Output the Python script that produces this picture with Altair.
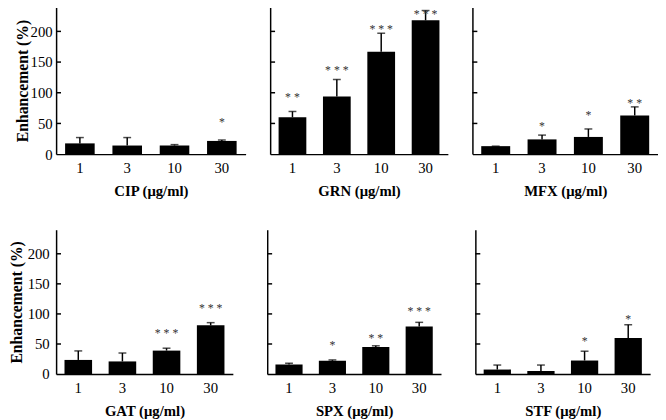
import altair as alt
import pandas as pd

conc = ["1", "3", "10", "30"]
drugs = ["CIP", "GRN", "MFX", "GAT", "SPX", "STF"]

means_CIP = [17.5, 14, 14, 21.5]
means_GRN = [60, 94, 167, 218]
means_MFX = [13, 24, 28, 63]
means_GAT = [23.5, 21, 39, 81]
means_SPX = [16, 22, 45, 79]
means_STF = [7.5, 5, 22.5, 60]

err_CIP = [9.5, 13, 1.5, 1.5]
err_GRN = [9.5, 27.5, 30, 16]
err_MFX = [0, 7, 13, 14]
err_GAT = [15, 14, 4, 4.5]
err_SPX = [2, 1.5, 2, 7]
err_STF = [7.5, 10, 15.5, 22]

stars_CIP = ["", "", "", "*"]
stars_GRN = ["**", "***", "***", "***"]
stars_MFX = ["", "*", "*", "**"]
stars_GAT = ["", "", "***", "***"]
stars_SPX = ["", "*", "**", "***"]
stars_STF = ["", "", "*", "*"]

star_y_CIP = [0, 0, 0, 57]
star_y_GRN = [97, 141, 208, 233]
star_y_MFX = [0, 50, 68, 88]
star_y_GAT = [0, 0, 73, 114]
star_y_SPX = [0, 53, 64, 109]
star_y_STF = [0, 0, 59, 97]

y_ticks = [50, 100, 150, 200]
y_labels = [0, 50, 100, 150, 200]

means = dict(CIP=means_CIP, GRN=means_GRN, MFX=means_MFX, GAT=means_GAT, SPX=means_SPX, STF=means_STF)
errs = dict(CIP=err_CIP, GRN=err_GRN, MFX=err_MFX, GAT=err_GAT, SPX=err_SPX, STF=err_STF)
stars = dict(CIP=stars_CIP, GRN=stars_GRN, MFX=stars_MFX, GAT=stars_GAT, SPX=stars_SPX, STF=stars_STF)
stars_y = dict(CIP=star_y_CIP, GRN=star_y_GRN, MFX=star_y_MFX, GAT=star_y_GAT, SPX=star_y_SPX, STF=star_y_STF)

SERIF = "Liberation Serif"
YTITLE = "Enhancement (%)"


def panel(drug, w, h, left, lpad=6, tpad=2):
    df = pd.DataFrame({
        "conc": conc,
        "val": means[drug],
        "top": [m + e for m, e in zip(means[drug], errs[drug])],
    })
    sdf = pd.DataFrame({"conc": conc,
                        "star": ["  ".join(list(s)) for s in stars[drug]],
                        "sy": stars_y[drug]})
    sdf = sdf[sdf["star"] != ""]
    tdf = pd.DataFrame({"val": y_ticks})

    xscale = alt.Scale(domain=conc, paddingInner=0.375, paddingOuter=0.19)
    yscale = alt.Scale(domain=[0, 240], nice=False)
    xaxis = alt.Axis(title=f"{drug} (μg/ml)", labelAngle=0, ticks=False, labelPadding=7, titlePadding=8)
    if left:
        yaxis = alt.Axis(title=YTITLE, values=y_labels, ticks=False, labelPadding=lpad, titlePadding=tpad,
                         titleFontSize=16)
    else:
        yaxis = alt.Axis(title="", values=y_labels, ticks=False, labels=False)

    x = alt.X("conc:N", scale=xscale, axis=xaxis)
    bars = alt.Chart(df).mark_bar(color="black").encode(
        x=x, y=alt.Y("val:Q", scale=yscale, axis=yaxis))
    rule = alt.Chart(df).mark_rule(color="black", strokeWidth=1.5).encode(
        x=x, y=alt.Y("val:Q", scale=yscale, axis=yaxis), y2="top:Q")
    cap = alt.Chart(df).mark_tick(color="black", thickness=1.5, size=8, orient="horizontal").encode(
        x=x, y=alt.Y("top:Q", scale=yscale, axis=yaxis))
    txt = alt.Chart(sdf).mark_text(font=SERIF, fontSize=12, color="#333", baseline="middle", dy=3).encode(
        x=x, y=alt.Y("sy:Q", scale=yscale, axis=yaxis), text="star:N")
    ticks = alt.Chart(tdf).mark_rule(color="black", strokeWidth=1.5).encode(
        y=alt.Y("val:Q", scale=yscale, axis=yaxis), x=alt.value(0), x2=alt.value(5))
    return alt.layer(bars, rule, cap, txt, ticks).properties(width=w, height=h)


top = alt.hconcat(
    panel("CIP", 193, 150, True, lpad=4, tpad=0),
    panel("GRN", 181, 150, False),
    panel("MFX", 189, 150, False),
    spacing=24,
)
bottom = alt.hconcat(
    panel("GAT", 180, 147, True, lpad=7, tpad=3),
    panel("SPX", 177, 147, False),
    panel("STF", 178, 147, False),
    spacing=34,
)

chart = alt.vconcat(top, bottom, spacing=32).properties(
    padding={"left": 0, "top": -5, "right": 0, "bottom": 0}
).configure_view(stroke=None).configure_axis(
    grid=False,
    domainColor="black",
    domainWidth=1.5,
    labelFont=SERIF,
    labelFontSize=15,
    labelColor="black",
    titleFont=SERIF,
    titleFontSize=15,
    titleFontWeight="bold",
    titleColor="black",
)

chart.save("out.html", embed_options={"renderer": "svg", "actions": False})
